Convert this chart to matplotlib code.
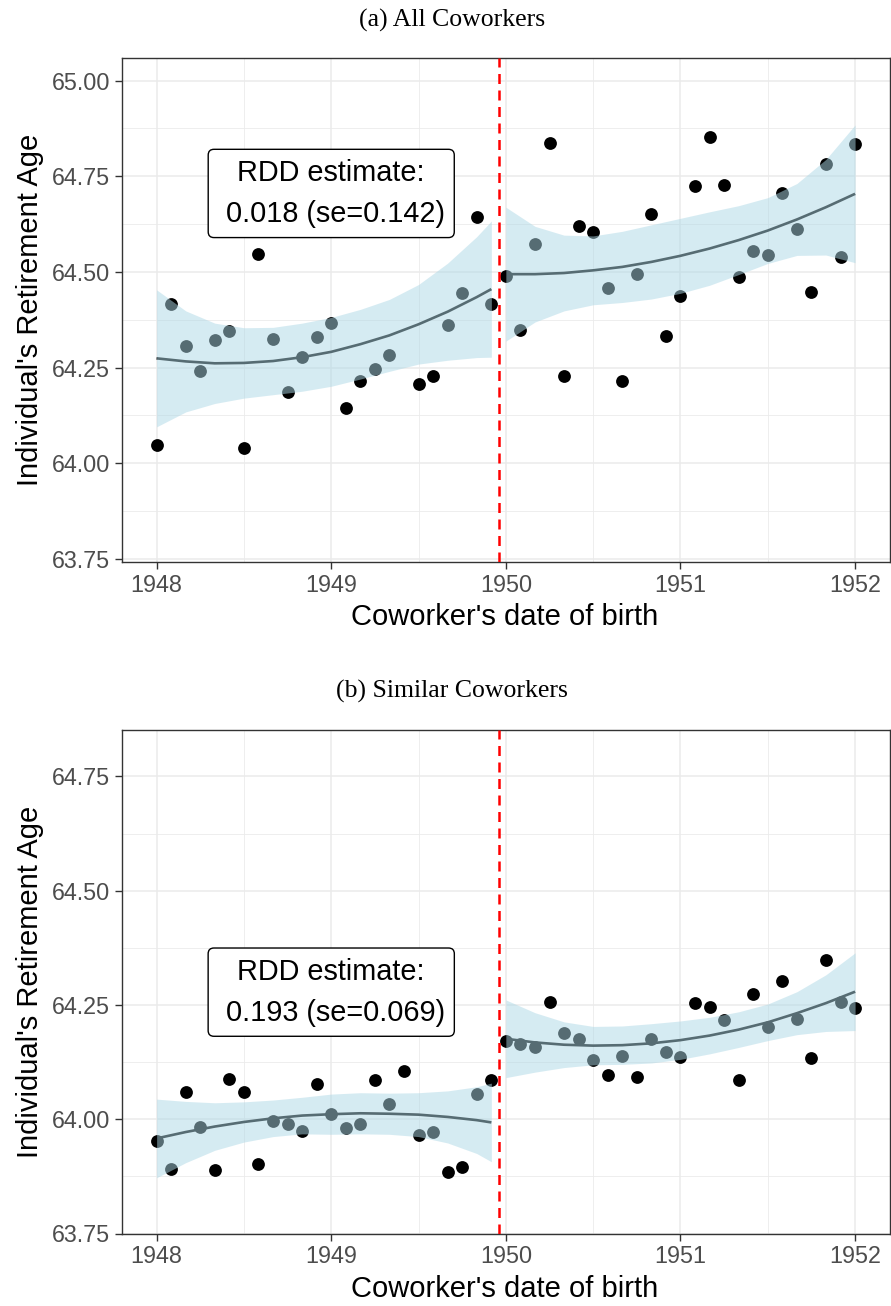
import matplotlib
matplotlib.use("Agg")
import matplotlib.pyplot as plt
import numpy as np

plt.rcParams['font.family'] = ['Liberation Sans', 'DejaVu Sans']

# ---------------- data ----------------
# monthly bins of coworker's date of birth
x_left = [1948.0, 1948.083, 1948.167, 1948.25, 1948.333, 1948.417, 1948.5, 1948.583,
          1948.667, 1948.75, 1948.833, 1948.917, 1949.0, 1949.083, 1949.167, 1949.25,
          1949.333, 1949.417, 1949.5, 1949.583, 1949.667, 1949.75, 1949.833, 1949.917]
x_right = [1950.0, 1950.083, 1950.167, 1950.25, 1950.333, 1950.417, 1950.5, 1950.583,
           1950.667, 1950.75, 1950.833, 1950.917, 1951.0, 1951.083, 1951.167, 1951.25,
           1951.333, 1951.417, 1951.5, 1951.583, 1951.667, 1951.75, 1951.833, 1951.917, 1952.0]

# (a) All coworkers: binned means
all_left = [64.047, 64.415, 64.307, 64.240, 64.322, 64.346, 64.039, 64.547,
            64.325, 64.187, 64.277, 64.330, 64.367, 64.145, 64.216, 64.245,
            64.284, 64.660, 64.206, 64.227, 64.360, 64.445, 64.643, 64.417]
all_right = [64.489, 64.347, 64.572, 64.837, 64.228, 64.620, 64.604, 64.457,
             64.214, 64.494, 64.652, 64.333, 64.436, 64.725, 64.853, 64.728,
             64.486, 64.554, 64.543, 64.706, 64.612, 64.447, 64.781, 64.540, 64.834]

# (b) Similar coworkers: binned means
sim_left = [63.953, 63.891, 64.060, 63.982, 63.888, 64.088, 64.059, 63.902,
            63.996, 63.990, 63.975, 64.077, 64.012, 63.981, 63.990, 64.085,
            64.034, 64.106, 63.966, 63.972, 63.884, 63.895, 64.056, 64.085]
sim_right = [64.171, 64.164, 64.157, 64.256, 64.188, 64.176, 64.129, 64.096,
             64.138, 64.093, 64.175, 64.147, 64.136, 64.254, 64.246, 64.217,
             64.086, 64.274, 64.202, 64.302, 64.219, 64.133, 64.348, 64.257, 64.243]

# fitted curves and 95% band half-widths
fx_left = [1948.0, 1948.167, 1948.333, 1948.5, 1948.667, 1948.833, 1949.0,
           1949.167, 1949.333, 1949.5, 1949.667, 1949.833, 1949.917]
fx_right = [1950.0, 1950.167, 1950.333, 1950.5, 1950.667, 1950.833, 1951.0,
            1951.167, 1951.333, 1951.5, 1951.667, 1951.833, 1952.0]

all_fit_left = [64.274, 64.266, 64.261, 64.262, 64.267, 64.277, 64.291,
                64.311, 64.334, 64.363, 64.396, 64.434, 64.455]
all_hw_left = [0.179, 0.132, 0.105, 0.092, 0.088, 0.089, 0.090,
               0.091, 0.094, 0.104, 0.127, 0.158, 0.178]
all_fit_right = [64.494, 64.494, 64.497, 64.504, 64.513, 64.526, 64.542,
                 64.561, 64.583, 64.608, 64.637, 64.669, 64.704]
all_hw_right = [0.175, 0.125, 0.099, 0.090, 0.093, 0.097, 0.098,
                0.096, 0.090, 0.086, 0.094, 0.125, 0.180]

sim_fit_left = [63.958, 63.972, 63.984, 63.994, 64.002, 64.008, 64.011,
                64.013, 64.012, 64.010, 64.005, 63.998, 63.993]
sim_hw_left = [0.086, 0.067, 0.052, 0.044, 0.040, 0.040, 0.044,
               0.045, 0.045, 0.048, 0.057, 0.073, 0.086]
sim_fit_right = [64.176, 64.168, 64.163, 64.161, 64.162, 64.166, 64.173,
                 64.183, 64.196, 64.212, 64.232, 64.254, 64.279]
sim_hw_right = [0.085, 0.065, 0.050, 0.042, 0.042, 0.043, 0.042,
                0.040, 0.039, 0.040, 0.047, 0.062, 0.085]

cutoff = 1949.96

x_ticks = [1948, 1949, 1950, 1951, 1952]
x_minor = [1948.5, 1949.5, 1950.5, 1951.5]
y_ticks_a = [63.75, 64.00, 64.25, 64.50, 64.75, 65.00]
y_minor_a = [63.875, 64.125, 64.375, 64.625, 64.875]
y_ticks_b = [63.75, 64.00, 64.25, 64.50, 64.75]
y_minor_b = [63.875, 64.125, 64.375, 64.625]

label_a = "RDD estimate:\n 0.018 (se=0.142)"
label_b = "RDD estimate:\n 0.193 (se=0.069)"
label_pos_a = (1949.0, 64.705)
label_pos_b = (1949.0, 64.278)

# ---------------- drawing ----------------
W, H = 891, 1306
fig = plt.figure(figsize=(W / 100, H / 100), dpi=100)

def px_axes(l, t, r, b):
    return fig.add_axes([l / W, 1 - b / H, (r - l) / W, (b - t) / H])

ax_a = px_axes(121.7, 58, 890, 561.7)
ax_b = px_axes(121.7, 730, 890, 1233.5)

def draw_panel(ax, yl, yr, fl, hwl, fr, hwr, yticks, yminor, ylim, label, lpos):
    ax.set_xlim(1947.8, 1952.2)
    ax.set_ylim(*ylim)
    ax.set_xticks(x_ticks)
    ax.set_xticklabels([str(t) for t in x_ticks])
    ax.set_xticks(x_minor, minor=True)
    ax.set_yticks(yticks)
    ax.set_yticklabels([f"{t:.2f}" for t in yticks])
    ax.set_yticks(yminor, minor=True)
    ax.grid(which='major', color='#EBEBEB', lw=1.15)
    ax.grid(which='minor', color='#EBEBEB', lw=0.6)
    ax.set_axisbelow(True)
    ax.tick_params(which='major', direction='out', length=5, width=1.0,
                   color='#333333', labelsize=16.8, labelcolor='#4D4D4D', pad=3.5)
    ax.tick_params(which='minor', length=0)
    for s in ax.spines.values():
        s.set_color('#333333')
        s.set_linewidth(1.0)

    ax.scatter(x_left, yl, s=85, color='black', lw=0, zorder=2)
    ax.scatter(x_right, yr, s=85, color='black', lw=0, zorder=2)
    for fx, fit, hw in [(fx_left, fl, hwl), (fx_right, fr, hwr)]:
        fit = np.asarray(fit)
        hw = np.asarray(hw)
        ax.plot(fx, fit, color='black', lw=1.9, zorder=3,
                solid_capstyle='butt', solid_joinstyle='round')
        ax.fill_between(fx, fit - hw, fit + hw, color='#ADD8E6', alpha=0.5,
                        lw=0, zorder=4)
    vl = ax.axvline(cutoff, color='#FF0000', lw=1.8, zorder=5)
    vl.set_dashes([4, 2.6])
    ax.text(lpos[0], lpos[1], label, ha='center', va='center', fontsize=20.8,
            multialignment='center', linespacing=1.6, color='black', zorder=6,
            bbox=dict(boxstyle='round,pad=0.33,rounding_size=0.2', fc='white',
                      ec='black', lw=1.0))

draw_panel(ax_a, all_left, all_right, all_fit_left, all_hw_left,
           all_fit_right, all_hw_right, y_ticks_a, y_minor_a,
           (63.7425, 65.059), label_a, label_pos_a)
draw_panel(ax_b, sim_left, sim_right, sim_fit_left, sim_hw_left,
           sim_fit_right, sim_hw_right, y_ticks_b, y_minor_b,
           (63.75, 64.8515), label_b, label_pos_b)

# titles and axis labels
serif = ['Liberation Serif', 'DejaVu Serif']
fig.text(452 / W, 1 - 20 / H, "(a) All Coworkers", ha='center', va='center',
         fontsize=18.5, family=serif)
fig.text(452 / W, 1 - 691 / H, "(b) Similar Coworkers", ha='center', va='center',
         fontsize=18.5, family=serif)
for ytop, ybot, ylab in [(58, 561.7, 617), (730, 1233.5, 1289)]:
    fig.text(505 / W, 1 - ylab / H, "Coworker's date of birth", ha='center',
             va='center', fontsize=21)
    fig.text(30 / W, 1 - (ytop + ybot) / 2 / H, "Individual's Retirement Age",
             ha='center', va='center', rotation=90, fontsize=21)

fig.savefig("out.png", dpi=100, facecolor='white')
